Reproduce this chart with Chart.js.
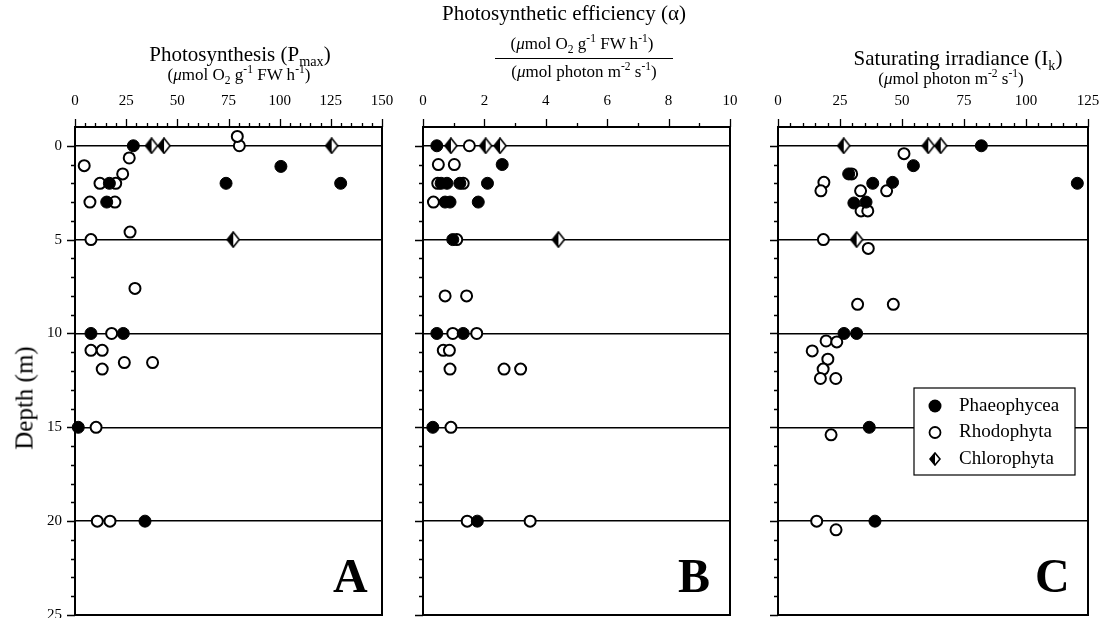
<!DOCTYPE html>
<html>
<head>
<meta charset="utf-8">
<script src="https://cdn.jsdelivr.net/npm/chart.js@4.4.0/dist/chart.umd.min.js"></script>
<style>
  html, body { margin: 0; padding: 0; background: #fff; }
  #wrap { position: relative; width: 1104px; height: 618px; overflow: hidden;
          font-family: 'Liberation Serif', 'Times New Roman', serif; color: #000; }
  canvas { position: absolute; top: 0; }
  .t { position: absolute; white-space: nowrap; line-height: 1; transform: translateX(-50%); }
  .t sub, .t sup { font-size: 68%; line-height: 0; }
  .L { position: absolute; font-weight: bold; font-size: 48px; line-height: 1; }
</style>
</head>
<body>
<div id="wrap">
  <canvas id="chartA" width="395" height="618" style="left:0px"></canvas>
  <canvas id="chartB" width="350" height="618" style="left:395px"></canvas>
  <canvas id="chartC" width="359" height="618" style="left:745px"></canvas>

  <div class="t" style="left:240px;top:44px;font-size:21px">Photosynthesis (P<sub>max</sub>)</div>
  <div class="t" style="left:239px;top:66px;font-size:17px">(<i>μ</i>mol O<sub>2</sub> g<sup>-1</sup> FW h<sup>-1</sup>)</div>

  <div class="t" style="left:564px;top:3px;font-size:21px">Photosynthetic efficiency (α)</div>
  <div class="t" style="left:582px;top:35px;font-size:17px">(<i>μ</i>mol O<sub>2</sub> g<sup>-1</sup> FW h<sup>-1</sup>)</div>
  <div style="position:absolute;left:495px;top:58px;width:178px;border-top:1.5px solid #000"></div>
  <div class="t" style="left:584px;top:63px;font-size:17px">(<i>μ</i>mol photon m<sup>-2</sup> s<sup>-1</sup>)</div>

  <div class="t" style="left:958px;top:48px;font-size:21px">Saturating irradiance (I<sub>k</sub>)</div>
  <div class="t" style="left:951px;top:70px;font-size:17px">(<i>μ</i>mol photon m<sup>-2</sup> s<sup>-1</sup>)</div>

  <div style="position:absolute;left:24px;top:398px;font-size:25px;line-height:1;white-space:nowrap;transform:translate(-50%,-50%) rotate(-90deg)">Depth (m)</div>

  <div class="L" style="left:333px;top:552px">A</div>
  <div class="L" style="left:678px;top:552px">B</div>
  <div class="L" style="left:1035px;top:552px">C</div>
</div>

<script>
// [value, depth (m)]
// A: Pmax
const pmaxPhaeo = [[28.5, 0], [100.6, 1.1], [73.8, 2], [129.8, 2], [16.8, 2], [15.5, 3],
                   [7.8, 10], [23.6, 10], [1.6, 15], [34.2, 20]];
const pmaxRhodo = [[80.3, 0], [79.3, -0.5], [26.5, 0.65], [4.5, 1.06], [23.3, 1.5], [12.2, 2], [19.9, 2],
                   [7.3, 3], [19.5, 3], [26.9, 4.6], [7.8, 5], [29.3, 7.6], [17.9, 10], [7.8, 10.9],
                   [13.3, 10.9], [13.3, 11.9], [24.1, 11.55], [37.9, 11.55], [10.3, 15], [10.9, 20], [17.1, 20]];
const pmaxChloro = [[37.4, 0], [43.5, 0], [125.4, 0], [77.3, 5]];

// B: alpha
const alphaPhaeo = [[0.45, 0], [2.58, 1], [0.59, 2], [0.78, 2], [1.2, 2], [2.1, 2], [0.72, 3], [0.88, 3],
                    [1.8, 3], [0.97, 5], [0.45, 10], [1.31, 10], [0.32, 15], [1.77, 20]];
const alphaRhodo = [[1.51, 0], [0.5, 1], [1.02, 1], [0.48, 2], [1.31, 2], [0.34, 3], [1.1, 5], [0.72, 8],
                    [1.42, 8], [0.97, 10], [1.75, 10], [0.66, 10.9], [0.86, 10.9], [0.88, 11.9],
                    [2.64, 11.9], [3.18, 11.9], [0.91, 15], [1.44, 20], [3.49, 20]];
const alphaChloro = [[0.91, 0], [2.04, 0], [2.51, 0], [4.41, 5]];

// C: Ik
const ikPhaeo = [[82, 0], [54.6, 1.06], [28.5, 1.5], [38.2, 2], [46.2, 1.95], [120.7, 2], [30.6, 3.05],
                 [35.5, 3], [26.6, 10], [31.7, 10], [36.8, 15], [39.1, 20]];
const ikRhodo = [[50.8, 0.42], [29.7, 1.5], [18.5, 1.95], [17.3, 2.4], [33.3, 2.4], [43.8, 2.4],
                 [33.5, 3.47], [36.2, 3.47], [18.3, 5], [36.4, 5.47], [32.1, 8.45], [46.5, 8.45],
                 [19.4, 10.4], [23.7, 10.45], [13.8, 10.93], [20.1, 11.37], [18.2, 11.9], [17.1, 12.4],
                 [23.3, 12.4], [21.4, 15.4], [15.6, 20], [23.4, 20.46]];
const ikChloro = [[26.5, 0], [60.6, 0], [65.6, 0], [31.7, 5]];

const pmaxTicks = [0, 25, 50, 75, 100, 125, 150];
const alphaTicks = [0, 2, 4, 6, 8, 10];
const ikTicks = [0, 25, 50, 75, 100, 125];
const depthTicks = [0, 5, 10, 15, 20, 25];

const FONT = "'Liberation Serif', 'Times New Roman', serif";

function makeDiamond(w, h) {
    const c = document.createElement('canvas');
    c.width = w; c.height = h;
    const g = c.getContext('2d');
    const cx = w / 2, cy = h / 2;
    g.beginPath();
    g.moveTo(cx, 1); g.lineTo(w - 1, cy); g.lineTo(cx, h - 1); g.lineTo(1, cy); g.closePath();
    g.fillStyle = '#fff'; g.fill();
    g.beginPath();
    g.moveTo(cx, 1); g.lineTo(1, cy); g.lineTo(cx, h - 1); g.closePath();
    g.fillStyle = '#000'; g.fill();
    g.beginPath();
    g.moveTo(cx, 1); g.lineTo(w - 1, cy); g.lineTo(cx, h - 1); g.lineTo(1, cy); g.closePath();
    g.lineWidth = 1.6; g.strokeStyle = '#000'; g.stroke();
    return c;
}
const diamond = makeDiamond(14, 17);
const diamondSmall = makeDiamond(12, 14);

// tick marks outside the frame + the frame itself
const frameTicks = {
    id: 'frameTicks',
    afterDraw(chart, args, opts) {
        const ctx = chart.ctx, ca = chart.chartArea;
        const xs = chart.scales.x, ys = chart.scales.y;
        ctx.save();
        ctx.strokeStyle = '#000';
        ctx.lineWidth = 1.3;
        ctx.beginPath();
        for (let v = 0; v <= xs.max + 1e-9; v += opts.minor) {
            const px = Math.round(xs.getPixelForValue(v)) + 0.5;
            const len = opts.majors.includes(v) ? 8 : 4;
            ctx.moveTo(px, ca.top);
            ctx.lineTo(px, ca.top - len);
        }
        for (let d = 0; d <= 25; d++) {
            const py = Math.round(ys.getPixelForValue(d)) + 0.5;
            const len = depthTicks.includes(d) ? 8 : 4;
            ctx.moveTo(ca.left, py);
            ctx.lineTo(ca.left - len, py);
        }
        ctx.stroke();
        ctx.lineWidth = 2;
        ctx.strokeRect(ca.left, ca.top, ca.right - ca.left, ca.bottom - ca.top);
        ctx.restore();
    }
};

const legendBox = {
    id: 'legendBox',
    afterDraw(chart, args, opts) {
        if (!opts.show) return;
        const ctx = chart.ctx, ca = chart.chartArea;
        const x0 = ca.left + 136, y0 = ca.top + 261, w = 161, h = 87;
        ctx.save();
        ctx.fillStyle = '#fff';
        ctx.fillRect(x0, y0, w, h);
        ctx.strokeStyle = '#000';
        ctx.lineWidth = 1.2;
        ctx.strokeRect(x0, y0, w, h);
        ctx.font = '19px ' + FONT;
        ctx.textBaseline = 'middle';
        chart.data.datasets.forEach((ds, i) => {
            const cy = y0 + 18 + i * 26.5, mx = x0 + 21;
            ctx.fillStyle = '#000';
            if (i === 0) {
                ctx.beginPath(); ctx.arc(mx, cy, 6.5, 0, Math.PI * 2); ctx.fill();
            } else if (i === 1) {
                ctx.beginPath(); ctx.arc(mx, cy, 5.5, 0, Math.PI * 2);
                ctx.lineWidth = 1.8; ctx.stroke();
            } else {
                ctx.drawImage(diamondSmall, mx - 6, cy - 7);
            }
            ctx.fillStyle = '#000';
            ctx.fillText(ds.label, x0 + 45, cy);
        });
        ctx.restore();
    }
};

function toXY(arr) {
    return arr.map(p => ({ x: p[0], y: p[1] }));
}

function makePanel(id, cfg) {
    new Chart(document.getElementById(id), {
        type: 'scatter',
        data: {
            datasets: [
                {
                    label: 'Phaeophycea',
                    data: toXY(cfg.phaeo),
                    pointStyle: 'circle',
                    pointRadius: 6,
                    backgroundColor: '#000',
                    borderColor: '#000',
                    borderWidth: 1,
                    clip: false
                },
                {
                    label: 'Rhodophyta',
                    data: toXY(cfg.rhodo),
                    pointStyle: 'circle',
                    pointRadius: 5.5,
                    backgroundColor: '#fff',
                    borderColor: '#000',
                    borderWidth: 2,
                    clip: false
                },
                {
                    label: 'Chlorophyta',
                    data: toXY(cfg.chloro),
                    pointStyle: diamond,
                    pointRadius: 7,
                    clip: false
                }
            ]
        },
        options: {
            responsive: false,
            animation: false,
            devicePixelRatio: 1,
            layout: { autoPadding: false, padding: { left: 0, right: cfg.padRight, top: 0, bottom: 3 } },
            plugins: {
                legend: { display: false },
                tooltip: { enabled: false },
                frameTicks: { minor: cfg.minor, majors: cfg.xTicks },
                legendBox: { show: !!cfg.legend }
            },
            scales: {
                x: {
                    type: 'linear',
                    position: 'top',
                    min: 0,
                    max: cfg.xTicks[cfg.xTicks.length - 1],
                    afterBuildTicks: s => { s.ticks = cfg.xTicks.map(v => ({ value: v })); },
                    afterFit: s => { s.height = 127; s.paddingLeft = 0; s.paddingRight = 0; },
                    grid: { display: false },
                    border: { display: false },
                    ticks: {
                        padding: 9, color: '#000', autoSkip: false, maxRotation: 0,
                        font: { family: FONT, size: 15 }
                    }
                },
                y: {
                    type: 'linear',
                    reverse: true,
                    min: -1,
                    max: 25,
                    afterBuildTicks: s => { s.ticks = depthTicks.map(v => ({ value: v })); },
                    afterFit: s => { s.width = cfg.axisWidth; s.paddingTop = 0; s.paddingBottom = 0; },
                    grid: { color: '#000', lineWidth: 1.5, drawTicks: false },
                    border: { display: false },
                    ticks: {
                        display: cfg.depthLabels, padding: 13, color: '#000', autoSkip: false,
                        font: { family: FONT, size: 15 }
                    }
                }
            }
        },
        plugins: [frameTicks, legendBox]
    });
}

makePanel('chartA', {
    phaeo: pmaxPhaeo, rhodo: pmaxRhodo, chloro: pmaxChloro,
    xTicks: pmaxTicks, minor: 5, axisWidth: 75, padRight: 13, depthLabels: true
});
makePanel('chartB', {
    phaeo: alphaPhaeo, rhodo: alphaRhodo, chloro: alphaChloro,
    xTicks: alphaTicks, minor: 1, axisWidth: 28, padRight: 15, depthLabels: false
});
makePanel('chartC', {
    phaeo: ikPhaeo, rhodo: ikRhodo, chloro: ikChloro,
    xTicks: ikTicks, minor: 5, axisWidth: 33, padRight: 16, depthLabels: false, legend: true
});
</script>
</body>
</html>
